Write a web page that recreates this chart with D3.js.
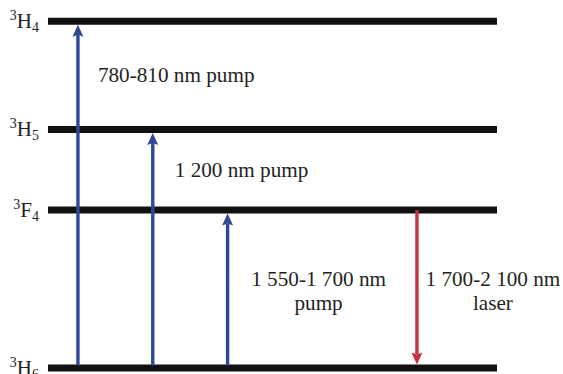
<!DOCTYPE html>
<html>
<head>
<meta charset="utf-8">
<script src="https://cdn.jsdelivr.net/npm/d3@7"></script>
<style>
  html, body { margin: 0; padding: 0; background: #fff; }
  svg { display: block; }
  text { font-family: "Liberation Serif", "Times New Roman", Times, serif; }
</style>
</head>
<body>
<svg id="chart" width="563" height="374"></svg>
<script>
// Tm3+ energy levels (relative energy, cm^-1), ordered from ground state up
const levelTerm = ["H", "F", "H", "H"];
const levelMultiplicity = ["3", "3", "3", "3"];
const levelJ = ["6", "4", "5", "4"];
const levelEnergy = [0, 5740, 8670, 12600];

// Transitions between levels (indices into the level arrays)
const transFrom = [0, 0, 0, 1];
const transTo = [3, 2, 1, 0];
const transColumn = [0.4, 1.4, 2.4, 4.93];
const transKind = ["pump", "pump", "pump", "laser"];
const transLabel = [
  ["780-810 nm pump"],
  ["1 200 nm pump"],
  ["1 550-1 700 nm", "pump"],
  ["1 700-2 100 nm", "laser"]
];

const svg = d3.select("#chart");

const y = d3.scaleLinear().domain([0, 12600]).range([368, 21.3]);
const x = d3.scaleLinear().domain([0, 6]).range([48, 497]);

const levelThickness = 7;
const colors = { pump: "#2f4896", laser: "#c2333f" };
const textColor = "#231f20";

// Horizontal level bars
svg.append("g")
  .selectAll("line")
  .data(levelEnergy)
  .join("line")
  .attr("x1", x(0))
  .attr("x2", x(6))
  .attr("y1", d => y(d))
  .attr("y2", d => y(d))
  .attr("stroke", "#111")
  .attr("stroke-width", levelThickness);

// Term symbols to the left of each bar
const lbl = svg.append("g")
  .selectAll("text")
  .data(levelEnergy.map((e, i) => ({ e, i })))
  .join("text")
  .attr("x", x(0) - 9)
  .attr("y", d => y(d.e) + 7)
  .attr("text-anchor", "end")
  .attr("fill", textColor);
lbl.append("tspan")
  .attr("font-size", 14)
  .attr("dy", -8)
  .text(d => levelMultiplicity[d.i]);
lbl.append("tspan")
  .attr("font-size", 21)
  .attr("dy", 8)
  .text(d => levelTerm[d.i]);
lbl.append("tspan")
  .attr("font-size", 14)
  .attr("dy", 4)
  .text(d => levelJ[d.i]);

// Transition arrows
const half = levelThickness / 2;
const headLen = 12, headHalf = 5.5, notch = 2;
const arrows = svg.append("g")
  .selectAll("g")
  .data(transFrom.map((f, i) => ({ i, f, t: transTo[i] })))
  .join("g");

arrows.each(function (d) {
  const g = d3.select(this);
  const cx = x(transColumn[d.i]);
  const up = levelEnergy[d.t] > levelEnergy[d.f];
  const dir = up ? -1 : 1;
  const y0 = y(levelEnergy[d.f]) + (up ? -half + 1 : 0);
  const tip = y(levelEnergy[d.t]) - dir * half;
  const col = colors[transKind[d.i]];
  g.append("line")
    .attr("x1", cx).attr("x2", cx)
    .attr("y1", y0)
    .attr("y2", tip - dir * (headLen - notch))
    .attr("stroke", col)
    .attr("stroke-width", 3.4);
  const base = tip - dir * headLen;
  g.append("path")
    .attr("d", `M${cx},${tip} L${cx + headHalf},${base} L${cx},${base + dir * notch} L${cx - headHalf},${base} Z`)
    .attr("fill", col);
});

// Transition labels
const labelPos = [
  { dx: 20, y: 82, anchor: "start" },
  { dx: 22, y: 177, anchor: "start" },
  { dx: 91, y: 286, anchor: "middle" },
  { dx: 76, y: 286, anchor: "middle" }
];
svg.append("g")
  .selectAll("text")
  .data(transLabel.map((lines, i) => ({ lines, i })))
  .join("text")
  .attr("font-size", 21.2)
  .attr("fill", textColor)
  .attr("text-anchor", d => labelPos[d.i].anchor)
  .each(function (d) {
    const p = labelPos[d.i];
    const tx = x(transColumn[d.i]) + p.dx;
    d3.select(this).selectAll("tspan")
      .data(d.lines)
      .join("tspan")
      .attr("x", tx)
      .attr("y", (s, k) => p.y + k * 24)
      .text(s => s);
  });
</script>
</body>
</html>
